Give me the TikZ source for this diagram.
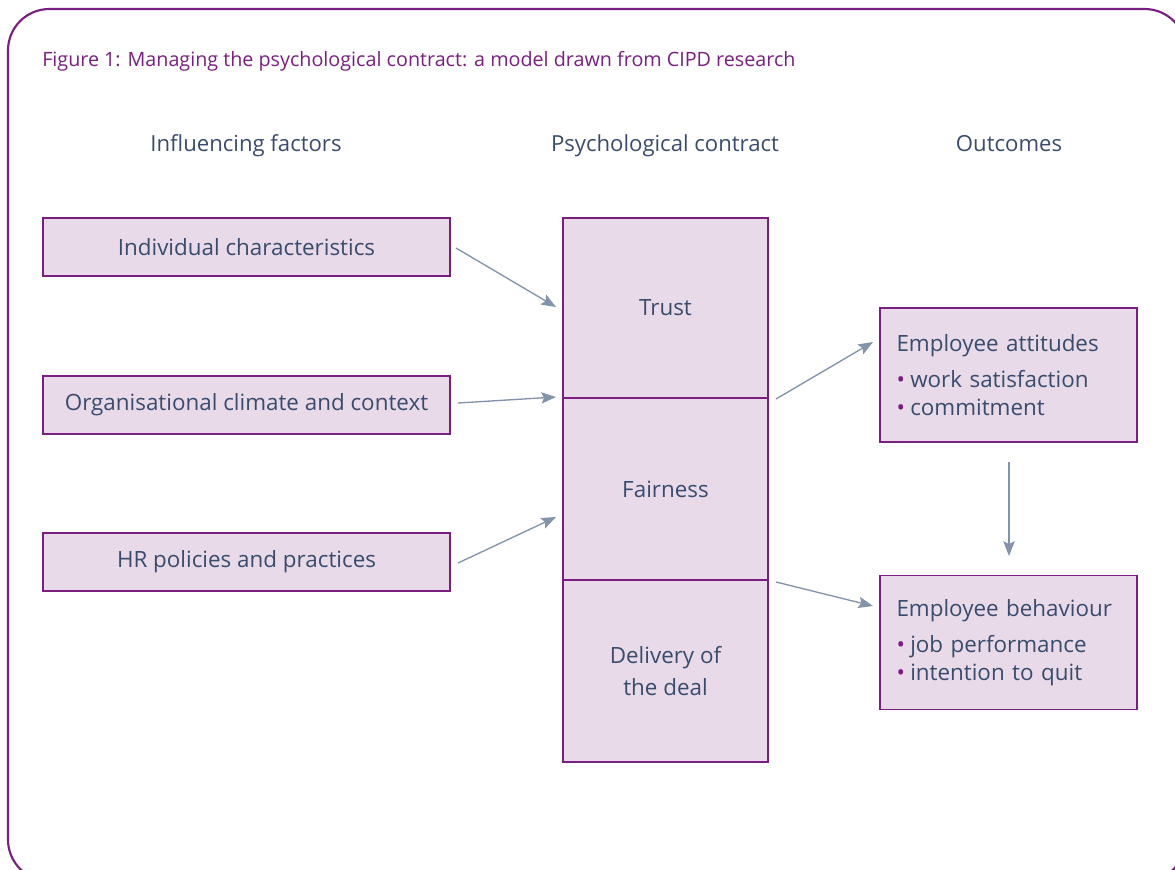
\documentclass[tikz,border=0pt]{standalone}
\usepackage{fontspec}
\setmainfont{Open Sans}
\usetikzlibrary{arrows.meta}
\definecolor{cipdpurple}{HTML}{7A1F80}
\definecolor{boxfill}{HTML}{E8DAE9}
\definecolor{inktext}{HTML}{3A4B6C}
\definecolor{arrowgrey}{HTML}{8393AA}
\tikzset{
  box/.style={draw=cipdpurple, fill=boxfill, line width=1.2pt, text=inktext,
    font=\fontsize{16.8}{24}\selectfont, inner sep=0pt},
  outbox/.style={box, align=left, text width=168pt, minimum width=192.75pt,
    minimum height=100.5pt, inner xsep=12pt},
  heading/.style={text=inktext, font=\fontsize{16.6}{20}\selectfont},
  flow/.style={draw=arrowgrey, line width=1pt,
    -{Stealth[length=11pt, width=8.5pt, inset=2pt]}},
}
\newcommand{\bul}{\textcolor{cipdpurple}{\textbullet}\hspace{4pt}}
\begin{document}
\begin{tikzpicture}[x=0.75pt, y=-0.75pt]
  \useasboundingbox (0,0) rectangle (1175,869);
  % outer frame
  \draw[cipdpurple, line width=1.6pt, rounded corners=31pt] (8,9) rectangle (1186,881);
  % title
  \node (title) [anchor=base west, text=cipdpurple, font=\fontsize{14.8}{18}\selectfont, inner sep=0pt]
    at (42,66) {Figure 1: Managing the psychological contract: a model drawn from CIPD research};
  % column headings
  \node (h1) [heading, anchor=base] at (246,151) {Influencing factors};
  \node (h2) [heading, anchor=base] at (665,151) {Psychological contract};
  \node (h3) [heading, anchor=base] at (1009,151) {Outcomes};
  % influencing factors
  \node (ind) [box, minimum width=305.25pt, minimum height=43.5pt] at (246.5,247) {Individual characteristics};
  \node (org) [box, minimum width=305.25pt, minimum height=43.5pt] at (246.5,405) {Organisational climate and context};
  \node (hrp) [box, minimum width=305.25pt, minimum height=43.5pt] at (246.5,562) {HR policies and practices};
  % psychological contract column: three stacked cells
  \node (trust) [box, minimum width=153.75pt, minimum height=135pt] at (665.5,308) {Trust};
  \node (fair) [box, minimum width=153.75pt, minimum height=136.5pt] at (665.5,489) {Fairness};
  \node (deal) [box, minimum width=153.75pt, minimum height=136.5pt, align=center] at (665.5,671) {Delivery of\\the deal};
  % outcomes
  \node (att) [outbox, font=\fontsize{16.8}{21}\selectfont] at (1008.5,375)
    {Employee attitudes\\[6pt]\bul work satisfaction\\\bul commitment};
  \node (beh) [outbox, font=\fontsize{16.8}{21}\selectfont] at (1008.5,642.5)
    {Employee behaviour\\[6pt]\bul job performance\\\bul intention to quit};
  % connector end points
  \coordinate (a1s) at (456,248);  \coordinate (a1e) at (556,307);
  \coordinate (a2s) at (458,403);  \coordinate (a2e) at (556,397);
  \coordinate (a3s) at (458,563);  \coordinate (a3e) at (556,517);
  \coordinate (a4s) at (776,399);  \coordinate (a4e) at (873,342);
  \coordinate (a5s) at (776,582);  \coordinate (a5e) at (873,606);
  \coordinate (a6s) at (1009,462); \coordinate (a6e) at (1009,556);
  \draw[flow] (a1s) -- (a1e);
  \draw[flow] (a2s) -- (a2e);
  \draw[flow] (a3s) -- (a3e);
  \draw[flow] (a4s) -- (a4e);
  \draw[flow] (a5s) -- (a5e);
  \draw[flow] (a6s) -- (a6e);
\end{tikzpicture}
\end{document}
